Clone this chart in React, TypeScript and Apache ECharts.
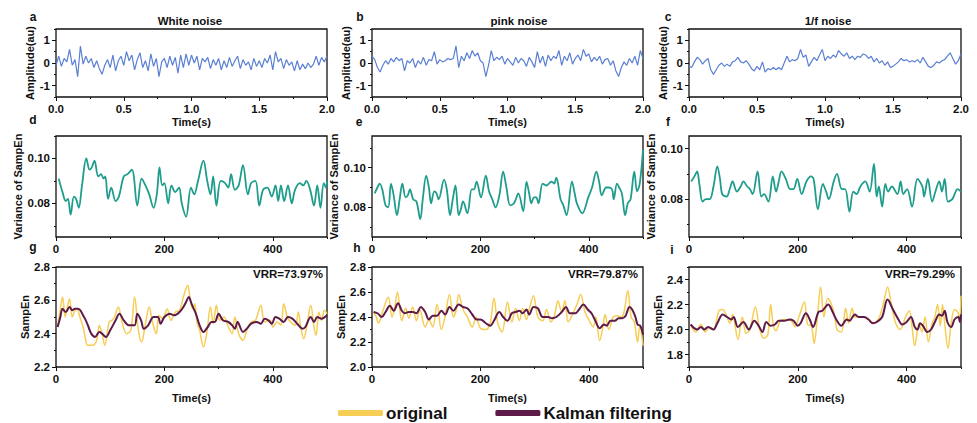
import { useEffect, useRef } from "react";
import * as echarts from "echarts";

// ---- Row 1: raw noise traces (sampled every NOISE_STEP seconds from 0 to 2 s)
const NOISE_STEP = 0.02;
const whiteNoise = [
  -0.1, 0.3, -0.15, 0.2, 0.05, 0.6, -0.1, 0.15, -0.6, 0.75, -0.05, 0.3, 0.0, 0.2, -0.2, 0.1, -0.25, -0.5, -0.1, 0.15,
  -0.2, 0.35, -0.35, 0.1, 0.3, -0.1, 0.5, 0.1, 0.35, -0.3, 0.15, 0.45, -0.2, 0.1, -0.35, 0.4, -0.15, 0.2, -0.6, 0.05,
  0.2, -0.2, 0.3, -0.1, 0.25, -0.45, 0.35, -0.2, 0.4, -0.1, 0.35, 0.0, 0.3, -0.3, 0.2, 0.05, 0.25, -0.25, 0.15, -0.1,
  0.2, -0.3, 0.1, -0.2, 0.25, -0.15, 0.1, 0.3, -0.25, 0.15, -0.1, 0.05, -0.3, 0.2, -0.15, 0.1, -0.2, 0.2, 0.0, 0.35,
  -0.3, 0.5, 0.05, 0.2, -0.25, 0.15, -0.1, 0.05, -0.35, 0.1, -0.3, -0.05, -0.25, 0.0, -0.2, -0.05, 0.3, -0.1, 0.25, 0.05,
  0.3,
];
const pinkNoise = [
  0.3, 0.15, -0.2, -0.4, -0.1, 0.1, -0.05, 0.2, 0.05, 0.25, 0.1, 0.2, -0.35, 0.1, 0.0, 0.2, -0.2, 0.1, -0.05, 0.25,
  -0.1, 0.15, 0.1, 0.5, -0.05, 0.15, 0.05, 0.1, 0.2, 0.15, 0.2, 0.75, -0.2, 0.3, 0.1, 0.45, 0.2, 0.55, 0.3, 0.45,
  0.1, 0.0, -0.6, -0.1, 0.55, 0.1, 0.25, 0.15, 0.3, -0.05, 0.2, 0.05, -0.1, 0.25, 0.0, 0.2, 0.1, -0.15, 0.25, 0.05,
  -0.2, 0.5, 0.0, 0.3, -0.15, 0.35, 0.1, 0.3, 0.2, 0.55, -0.1, 0.3, 0.1, 0.45, -0.05, 0.2, 0.35, 0.1, 0.6, 0.3,
  0.4, 0.05, 0.25, 0.1, 0.3, -0.05, 0.15, 0.2, -0.1, 0.1, -0.35, -0.6, -0.2, 0.05, -0.1, 0.2, 0.0, 0.3, -0.1, 0.55,
  0.2,
];
const oneOverFNoise = [
  -0.15, -0.2, 0.05, 0.25, 0.15, -0.05, 0.1, 0.2, -0.3, -0.5, -0.3, -0.1, 0.0, -0.15, -0.05, -0.15, 0.05, 0.1, 0.25, 0.05,
  0.0, 0.1, -0.05, -0.25, -0.35, -0.15, -0.3, 0.05, -0.4, -0.25, -0.3, -0.2, -0.3, -0.2, -0.3, 0.0, 0.3, 0.05, 0.15, 0.1,
  0.2, 0.6, 0.25, 0.35, -0.15, 0.05, 0.25, 0.1, 0.35, 0.6, 0.1, 0.3, 0.2, 0.35, 0.25, 0.55, 0.4, 0.3, 0.45, 0.2,
  0.3, 0.15, 0.3, 0.25, 0.4, 0.35, 0.2, 0.3, 0.05, 0.2, 0.0, 0.1, -0.1, 0.05, -0.2, -0.15, -0.05, 0.05, 0.2, 0.1,
  0.15, 0.05, 0.1, 0.05, 0.15, 0.0, 0.25, 0.05, -0.15, -0.2, -0.1, 0.05, 0.0, 0.1, 0.15, 0.3, 0.45, 0.2, -0.05, 0.1,
  0.4,
];

// ---- Row 2: variance of SampEn over time [t (s), variance]
const varWhite: [number, number][] = [
  [5, 0.091], [12, 0.085], [18, 0.081], [22, 0.082], [27, 0.075], [33, 0.083], [37, 0.082], [42, 0.078], [48, 0.088],
  [56, 0.1], [62, 0.095], [66, 0.096], [71, 0.099], [78, 0.092], [83, 0.093], [88, 0.091], [91, 0.092], [96, 0.082],
  [102, 0.087], [110, 0.081], [116, 0.083], [125, 0.092], [132, 0.093], [140, 0.095], [150, 0.079], [158, 0.091],
  [165, 0.088], [172, 0.084], [180, 0.078], [186, 0.084], [191, 0.096], [196, 0.088], [200, 0.089], [207, 0.08],
  [213, 0.088], [220, 0.085], [227, 0.087], [232, 0.08], [240, 0.074], [249, 0.087], [255, 0.084], [262, 0.09],
  [272, 0.099], [279, 0.09], [285, 0.084], [290, 0.092], [296, 0.079], [304, 0.09], [312, 0.089], [318, 0.087],
  [323, 0.093], [330, 0.086], [337, 0.088], [345, 0.097], [354, 0.084], [360, 0.089], [368, 0.09], [375, 0.079],
  [382, 0.086], [390, 0.087], [398, 0.083], [405, 0.088], [410, 0.081], [415, 0.088], [421, 0.081], [428, 0.088],
  [435, 0.08], [441, 0.086], [450, 0.089], [456, 0.088], [462, 0.09], [469, 0.086], [476, 0.079], [482, 0.088],
  [488, 0.078], [494, 0.089], [498, 0.087], [500, 0.09],
];
const varPink: [number, number][] = [
  [5, 0.087], [10, 0.09], [14, 0.092], [19, 0.089], [25, 0.081], [30, 0.08], [35, 0.092], [40, 0.086], [46, 0.076],
  [51, 0.084], [56, 0.092], [62, 0.085], [66, 0.086], [70, 0.089], [76, 0.084], [82, 0.083], [89, 0.074], [94, 0.085],
  [100, 0.096], [105, 0.09], [109, 0.082], [115, 0.088], [119, 0.087], [123, 0.084], [133, 0.094], [138, 0.089],
  [144, 0.076], [149, 0.084], [154, 0.091], [160, 0.076], [164, 0.079], [168, 0.083], [176, 0.077], [184, 0.089],
  [188, 0.089], [193, 0.093], [201, 0.085], [210, 0.096], [216, 0.088], [222, 0.084], [228, 0.08], [235, 0.086],
  [242, 0.098], [248, 0.09], [255, 0.081], [262, 0.082], [270, 0.087], [279, 0.078], [285, 0.093], [290, 0.087],
  [294, 0.082], [299, 0.085], [303, 0.085], [307, 0.082], [315, 0.092], [322, 0.091], [331, 0.093], [336, 0.092],
  [340, 0.095], [348, 0.084], [353, 0.081], [359, 0.076], [369, 0.093], [374, 0.087], [378, 0.082], [388, 0.077],
  [399, 0.085], [406, 0.09], [414, 0.098], [419, 0.093], [424, 0.086], [432, 0.09], [437, 0.09], [443, 0.089],
  [446, 0.084], [452, 0.092], [456, 0.09], [461, 0.087], [467, 0.076], [472, 0.082], [477, 0.084], [484, 0.098],
  [489, 0.088], [494, 0.092], [500, 0.109],
];
const var1f: [number, number][] = [
  [4, 0.087], [10, 0.089], [15, 0.091], [19, 0.086], [25, 0.079], [31, 0.08], [38, 0.08], [45, 0.085], [52, 0.093],
  [57, 0.088], [61, 0.082], [69, 0.081], [75, 0.084], [80, 0.087], [88, 0.083], [95, 0.085], [100, 0.087], [107, 0.085],
  [112, 0.084], [117, 0.082], [126, 0.091], [133, 0.081], [138, 0.082], [146, 0.079], [154, 0.089], [160, 0.083],
  [165, 0.087], [170, 0.091], [178, 0.088], [186, 0.084], [192, 0.084], [199, 0.088], [207, 0.082], [216, 0.087],
  [224, 0.089], [229, 0.088], [237, 0.076], [246, 0.086], [252, 0.083], [257, 0.08], [266, 0.087], [272, 0.09],
  [281, 0.084], [287, 0.084], [295, 0.075], [302, 0.083], [308, 0.082], [315, 0.085], [324, 0.087], [332, 0.083],
  [340, 0.094], [345, 0.081], [349, 0.085], [355, 0.077], [361, 0.086], [366, 0.083], [373, 0.085], [383, 0.082],
  [389, 0.087], [394, 0.082], [401, 0.084], [410, 0.077], [420, 0.088], [429, 0.085], [432, 0.081], [439, 0.088],
  [447, 0.079], [453, 0.083], [460, 0.087], [465, 0.083], [470, 0.088], [476, 0.079], [484, 0.08], [494, 0.084],
  [500, 0.083],
];

// ---- Row 3: SampEn, original vs Kalman-filtered [t (s), SampEn]
const origWhite: [number, number][] = [
  [3, 2.44], [8, 2.55], [12, 2.62], [17, 2.5], [21, 2.56], [25, 2.61], [30, 2.5], [34, 2.53], [38, 2.55], [45, 2.49],
  [50, 2.44], [55, 2.36], [58, 2.33], [64, 2.33], [68, 2.33], [75, 2.36], [80, 2.45], [85, 2.4], [90, 2.33], [98, 2.47],
  [103, 2.48], [108, 2.5], [115, 2.56], [122, 2.47], [130, 2.4], [138, 2.42], [145, 2.62], [152, 2.42], [158, 2.35],
  [165, 2.46], [172, 2.56], [178, 2.47], [185, 2.4], [190, 2.51], [197, 2.49], [205, 2.55], [212, 2.48], [220, 2.53],
  [228, 2.54], [235, 2.62], [243, 2.69], [247, 2.62], [252, 2.55], [256, 2.58], [260, 2.47], [265, 2.42], [272, 2.32],
  [278, 2.4], [285, 2.56], [290, 2.46], [296, 2.57], [302, 2.48], [310, 2.5], [318, 2.44], [325, 2.4], [330, 2.5],
  [337, 2.4], [345, 2.36], [352, 2.42], [360, 2.47], [368, 2.48], [378, 2.57], [385, 2.47], [395, 2.48], [400, 2.44],
  [408, 2.47], [415, 2.45], [420, 2.58], [428, 2.49], [436, 2.46], [442, 2.45], [447, 2.53], [452, 2.43], [457, 2.37],
  [463, 2.45], [470, 2.57], [476, 2.44], [480, 2.39], [485, 2.53], [490, 2.48], [495, 2.54], [500, 2.52],
];
const kalmanWhite: [number, number][] = [
  [3, 2.44], [8, 2.5], [12, 2.55], [18, 2.53], [25, 2.56], [30, 2.54], [35, 2.55], [40, 2.55], [45, 2.54], [50, 2.51],
  [55, 2.48], [60, 2.44], [65, 2.4], [72, 2.38], [80, 2.41], [85, 2.4], [92, 2.38], [100, 2.42], [110, 2.48], [117, 2.52],
  [125, 2.48], [135, 2.45], [145, 2.45], [150, 2.52], [157, 2.48], [162, 2.43], [170, 2.45], [180, 2.5], [188, 2.5],
  [193, 2.46], [200, 2.5], [210, 2.52], [218, 2.51], [228, 2.53], [235, 2.56], [240, 2.59], [245, 2.62], [250, 2.58],
  [258, 2.52], [265, 2.45], [272, 2.41], [280, 2.44], [287, 2.47], [293, 2.47], [300, 2.52], [308, 2.48], [318, 2.47],
  [325, 2.45], [330, 2.43], [335, 2.47], [345, 2.41], [352, 2.43], [360, 2.46], [370, 2.47], [378, 2.46], [385, 2.49],
  [392, 2.48], [398, 2.46], [405, 2.5], [412, 2.49], [420, 2.47], [428, 2.5], [436, 2.49], [445, 2.46], [455, 2.43],
  [460, 2.44], [470, 2.5], [476, 2.47], [482, 2.5], [490, 2.49], [500, 2.51],
];
const origPink: [number, number][] = [
  [3, 2.44], [8, 2.4], [12, 2.35], [18, 2.42], [24, 2.5], [30, 2.56], [37, 2.4], [42, 2.48], [47, 2.6], [55, 2.37],
  [62, 2.47], [68, 2.39], [75, 2.48], [82, 2.37], [88, 2.46], [98, 2.32], [105, 2.38], [112, 2.32], [120, 2.5],
  [128, 2.3], [135, 2.41], [143, 2.58], [150, 2.4], [155, 2.45], [160, 2.58], [168, 2.46], [176, 2.4], [185, 2.32],
  [192, 2.4], [200, 2.31], [210, 2.3], [218, 2.35], [225, 2.55], [232, 2.35], [240, 2.28], [250, 2.52], [258, 2.36],
  [265, 2.47], [272, 2.37], [278, 2.47], [285, 2.38], [290, 2.46], [298, 2.57], [306, 2.4], [315, 2.37], [322, 2.46],
  [330, 2.36], [337, 2.42], [343, 2.53], [350, 2.44], [356, 2.53], [362, 2.36], [370, 2.42], [378, 2.5], [385, 2.58],
  [393, 2.44], [400, 2.38], [408, 2.32], [413, 2.4], [420, 2.21], [426, 2.32], [430, 2.42], [437, 2.3], [445, 2.4],
  [452, 2.41], [460, 2.4], [465, 2.44], [472, 2.61], [478, 2.4], [484, 2.36], [490, 2.2], [494, 2.33], [500, 2.17],
];
const kalmanPink: [number, number][] = [
  [3, 2.44], [10, 2.43], [18, 2.4], [25, 2.44], [33, 2.49], [40, 2.45], [48, 2.51], [55, 2.45], [60, 2.43], [68, 2.44],
  [75, 2.44], [82, 2.43], [90, 2.48], [98, 2.44], [105, 2.38], [112, 2.41], [120, 2.41], [128, 2.45], [135, 2.42],
  [143, 2.48], [150, 2.45], [160, 2.5], [168, 2.48], [176, 2.47], [185, 2.42], [193, 2.38], [200, 2.38], [210, 2.35],
  [218, 2.33], [225, 2.37], [235, 2.44], [242, 2.4], [250, 2.37], [258, 2.43], [265, 2.44], [272, 2.45], [278, 2.43],
  [285, 2.46], [290, 2.42], [298, 2.48], [306, 2.47], [315, 2.4], [325, 2.4], [332, 2.39], [340, 2.4], [350, 2.44],
  [358, 2.48], [365, 2.43], [375, 2.43], [382, 2.46], [390, 2.5], [398, 2.46], [405, 2.43], [412, 2.37], [420, 2.31],
  [428, 2.34], [433, 2.33], [440, 2.37], [448, 2.37], [455, 2.39], [462, 2.39], [468, 2.41], [475, 2.48], [480, 2.46],
  [486, 2.4], [490, 2.34], [495, 2.33], [500, 2.26],
];
const orig1f: [number, number][] = [
  [3, 2.04], [12, 1.98], [22, 2.04], [30, 1.98], [38, 2.02], [45, 2.0], [55, 2.15], [62, 2.16], [70, 2.1], [75, 2.05],
  [80, 2.12], [90, 1.92], [98, 2.1], [105, 1.97], [112, 2.0], [122, 2.18], [130, 2.0], [138, 1.93], [145, 1.96],
  [150, 2.2], [155, 2.04], [160, 1.99], [168, 2.07], [178, 2.08], [188, 2.07], [195, 2.02], [202, 2.1], [212, 2.22],
  [218, 2.04], [225, 2.03], [230, 1.89], [236, 2.1], [242, 2.34], [248, 2.1], [255, 2.25], [262, 2.2], [268, 2.1],
  [272, 2.0], [280, 1.98], [288, 2.17], [293, 2.05], [300, 2.17], [305, 2.1], [318, 2.1], [330, 2.08], [340, 2.05],
  [350, 2.1], [358, 2.22], [365, 2.34], [372, 2.2], [380, 2.05], [388, 2.0], [398, 2.1], [405, 2.15], [410, 2.02],
  [415, 1.87], [423, 2.05], [428, 1.98], [434, 2.1], [440, 1.9], [447, 2.05], [452, 2.1], [457, 2.2], [462, 2.03],
  [466, 2.2], [470, 2.05], [476, 1.85], [482, 2.05], [488, 2.16], [494, 2.14], [497, 2.08], [500, 2.27],
];
const kalman1f: [number, number][] = [
  [3, 2.04], [15, 2.0], [22, 2.02], [28, 2.0], [35, 2.02], [45, 2.0], [52, 2.05], [62, 2.12], [70, 2.1], [78, 2.08],
  [82, 2.1], [90, 2.02], [100, 2.06], [110, 2.0], [120, 2.07], [128, 2.03], [135, 1.98], [142, 2.06], [150, 2.03],
  [158, 2.04], [165, 2.07], [175, 2.07], [185, 2.08], [192, 2.07], [200, 2.03], [205, 2.05], [215, 2.13], [222, 2.08],
  [228, 2.02], [238, 2.14], [245, 2.15], [256, 2.2], [263, 2.15], [272, 2.07], [280, 2.03], [290, 2.08], [295, 2.07],
  [305, 2.12], [312, 2.1], [322, 2.1], [330, 2.08], [338, 2.05], [345, 2.06], [355, 2.1], [365, 2.24], [375, 2.16],
  [385, 2.08], [392, 2.04], [400, 2.06], [408, 2.1], [415, 2.02], [420, 2.0], [425, 2.05], [430, 2.03], [438, 1.98],
  [445, 2.0], [452, 2.06], [460, 2.12], [465, 2.11], [470, 2.15], [475, 2.06], [482, 2.02], [488, 2.08], [495, 2.1],
  [498, 2.06], [500, 2.12],
];

// ---- Texts and ticks
const NOISE_TITLES = ["White noise", "pink noise", "1/f noise"];
const VRR_LABELS = ["VRR=73.97%", "VRR=79.87%", "VRR=79.29%"];
const PANEL_LETTERS = ["a", "b", "c", "d", "e", "f", "g", "h", "i"];
const LEGEND_NAMES = ["original", "Kalman filtering"];

const noiseTimeTicks = [0, 0.5, 1, 1.5, 2];
const noiseTimeMinor = [0.25, 0.75, 1.25, 1.75];
const timeTicks = [0, 200, 400];
const timeMinor = [100, 300, 500];

const ampTicks = [-1, 0, 1];
const ampMinor = [-1.5, -0.5, 0.5, 1.5];
const varTicks = [0.08, 0.1];
const varMinor = [0.07, 0.09, 0.11];
const sampTicksWhite = [2.2, 2.4, 2.6, 2.8];
const sampMinorWhite = [2.3, 2.5, 2.7];
const sampTicksPink = [2.0, 2.2, 2.4, 2.6, 2.8];
const sampMinorPink = [2.1, 2.3, 2.5, 2.7];
const sampTicks1f = [1.8, 2.0, 2.2, 2.4];
const sampMinor1f = [1.7, 1.9, 2.1, 2.3, 2.5];

const FONT = '"Liberation Sans", Arial, Helvetica, sans-serif';
const INK = "#111111";
const BLUE = "#5b80d2";
const TEAL = "#1e9c8c";
const YELLOW = "#f6cd55";
const PURPLE = "#5e1a48";

type Panel = {
  left: number;
  top: number;
  width: number;
  height: number;
  xMin: number;
  xMax: number;
  xTicks: number[];
  xMinor: number[];
  xFmt: (v: number) => string;
  xName: string;
  yMin: number;
  yMax: number;
  yTicks: number[];
  yMinor: number[];
  yFmt: (v: number) => string;
  yName: string;
  yNameGap: number;
};

const COL_LEFT = [56, 372, 689];
const COL_WIDTH = [271, 271, 272];

function buildOption() {
  const panels: Panel[] = [];
  const series: any[] = [];

  const noise = [whiteNoise, pinkNoise, oneOverFNoise];
  const variances = [varWhite, varPink, var1f];
  const originals = [origWhite, origPink, orig1f];
  const kalmans = [kalmanWhite, kalmanPink, kalman1f];
  const varRanges = [
    [0.065, 0.11],
    [0.065, 0.116],
    [0.065, 0.105],
  ];
  const sampRanges = [
    [2.2, 2.8],
    [2.0, 2.8],
    [1.7, 2.5],
  ];
  const sampTicks = [sampTicksWhite, sampTicksPink, sampTicks1f];
  const sampMinor = [sampMinorWhite, sampMinorPink, sampMinor1f];

  for (let c = 0; c < 3; c++) {
    panels.push({
      left: COL_LEFT[c], top: 29, width: COL_WIDTH[c], height: 68,
      xMin: 0, xMax: 2, xTicks: noiseTimeTicks, xMinor: noiseTimeMinor,
      xFmt: (v) => v.toFixed(1), xName: "Time(s)",
      yMin: -1.5, yMax: 1.5, yTicks: ampTicks, yMinor: ampMinor,
      yFmt: (v) => String(Math.round(v)), yName: "Amplitude(au)", yNameGap: 17,
    });
  }
  for (let c = 0; c < 3; c++) {
    panels.push({
      left: COL_LEFT[c], top: 136, width: COL_WIDTH[c], height: 101,
      xMin: 0, xMax: 500, xTicks: timeTicks, xMinor: timeMinor,
      xFmt: (v) => String(Math.round(v)), xName: "",
      yMin: varRanges[c][0], yMax: varRanges[c][1], yTicks: varTicks,
      yMinor: varMinor.filter((m) => m <= varRanges[c][1]),
      yFmt: (v) => v.toFixed(2), yName: "Variance of SampEn", yNameGap: 31,
    });
  }
  for (let c = 0; c < 3; c++) {
    panels.push({
      left: COL_LEFT[c], top: 267, width: COL_WIDTH[c], height: 100,
      xMin: 0, xMax: 500, xTicks: timeTicks, xMinor: timeMinor,
      xFmt: (v) => String(Math.round(v)), xName: "Time(s)",
      yMin: sampRanges[c][0], yMax: sampRanges[c][1], yTicks: sampTicks[c], yMinor: sampMinor[c],
      yFmt: (v) => v.toFixed(1), yName: "SampEn", yNameGap: 25,
    });
  }

  const labelStyle = { color: INK, fontFamily: FONT, fontWeight: "bold" as const, fontSize: 11.5 };
  const nameStyle = { color: INK, fontFamily: FONT, fontWeight: "bold" as const, fontSize: 11 };

  const grid: any[] = [];
  const xAxis: any[] = [];
  const yAxis: any[] = [];

  panels.forEach((p, k) => {
    grid.push({
      left: p.left, top: p.top, width: p.width, height: p.height,
      show: true, borderColor: INK, borderWidth: 1.3, backgroundColor: "transparent",
    });
    // main x axis: labels + major ticks
    xAxis.push({
      type: "value", gridIndex: k, min: p.xMin, max: p.xMax, position: "bottom",
      axisLine: { show: false, onZero: false },
      splitLine: { show: false },
      axisTick: { show: true, length: 4, lineStyle: { color: INK, width: 1 }, customValues: p.xTicks },
      axisLabel: { ...labelStyle, margin: 6, customValues: p.xTicks, formatter: (v: number) => p.xFmt(v) },
      name: p.xName, nameLocation: "middle", nameGap: k < 3 ? 19 : 25, nameTextStyle: nameStyle,
    });
    // minor x ticks
    xAxis.push({
      type: "value", gridIndex: k, min: p.xMin, max: p.xMax, position: "bottom",
      axisLine: { show: false, onZero: false }, splitLine: { show: false }, axisLabel: { show: false },
      axisTick: { show: true, length: 2, lineStyle: { color: INK, width: 1 }, customValues: p.xMinor },
    });
    yAxis.push({
      type: "value", gridIndex: k, min: p.yMin, max: p.yMax, position: "left",
      axisLine: { show: false, onZero: false },
      splitLine: { show: false },
      axisTick: { show: true, length: 4, lineStyle: { color: INK, width: 1 }, customValues: p.yTicks },
      axisLabel: { ...labelStyle, margin: 6, customValues: p.yTicks, formatter: (v: number) => p.yFmt(v) },
      name: p.yName, nameLocation: "middle", nameGap: p.yNameGap, nameRotate: 90, nameTextStyle: nameStyle,
    });
    yAxis.push({
      type: "value", gridIndex: k, min: p.yMin, max: p.yMax, position: "left",
      axisLine: { show: false, onZero: false }, splitLine: { show: false }, axisLabel: { show: false },
      axisTick: { show: true, length: 2, lineStyle: { color: INK, width: 1 }, customValues: p.yMinor },
    });
  });

  // Row 1 noise
  noise.forEach((vals, c) => {
    series.push({
      type: "line", xAxisIndex: c * 2, yAxisIndex: c * 2, symbol: "none", silent: true,
      lineStyle: { color: BLUE, width: 1.2 },
      data: vals.map((v, i) => [i * NOISE_STEP, v]),
    });
  });
  // Row 2 variance
  variances.forEach((vals, c) => {
    const k = 3 + c;
    series.push({
      type: "line", xAxisIndex: k * 2, yAxisIndex: k * 2, symbol: "none", silent: true, smooth: 0.35,
      lineStyle: { color: TEAL, width: 1.8 },
      data: vals,
    });
  });
  // Row 3 SampEn
  for (let c = 0; c < 3; c++) {
    const k = 6 + c;
    series.push({
      name: LEGEND_NAMES[0], type: "line", xAxisIndex: k * 2, yAxisIndex: k * 2, symbol: "none", silent: true,
      smooth: 0.35, color: YELLOW, lineStyle: { color: YELLOW, width: 1.5 },
      data: originals[c],
    });
    series.push({
      name: LEGEND_NAMES[1], type: "line", xAxisIndex: k * 2, yAxisIndex: k * 2, symbol: "none", silent: true,
      smooth: 0.35, color: PURPLE, lineStyle: { color: PURPLE, width: 2 },
      data: kalmans[c],
    });
  }

  const letterPos = [
    [33, 17], [360, 17], [668, 17],
    [33, 120], [359, 122], [668, 122],
    [33, 247], [357, 248], [672, 250],
  ];
  const titleX = [190, 519, 828];
  const vrrRight = [323, 638, 955];

  const graphic: any[] = [];
  PANEL_LETTERS.forEach((l, i) => {
    graphic.push({
      type: "text", x: letterPos[i][0], y: letterPos[i][1], silent: true,
      style: { text: l, fill: INK, font: `bold 12px ${FONT}`, textAlign: "center", textVerticalAlign: "middle" },
    });
  });
  NOISE_TITLES.forEach((t, i) => {
    graphic.push({
      type: "text", x: titleX[i], y: 21, silent: true,
      style: { text: t, fill: INK, font: `bold 11.5px ${FONT}`, textAlign: "center", textVerticalAlign: "middle" },
    });
  });
  VRR_LABELS.forEach((t, i) => {
    graphic.push({
      type: "text", x: vrrRight[i], y: 274, silent: true,
      style: { text: t, fill: INK, font: `bold 11.5px ${FONT}`, textAlign: "right", textVerticalAlign: "middle" },
    });
  });

  return {
    animation: false,
    backgroundColor: "#ffffff",
    textStyle: { fontFamily: FONT },
    grid,
    xAxis,
    yAxis,
    series,
    graphic,
    legend: {
      data: LEGEND_NAMES,
      left: 338,
      top: 404,
      padding: 0,
      icon: "roundRect",
      itemWidth: 45,
      itemHeight: 6,
      itemGap: 48,
      selectedMode: false,
      textStyle: {
        color: INK, fontFamily: FONT, fontWeight: "bold", fontSize: 17, lineHeight: 18,
        padding: [0, 0, 0, -2],
      },
    },
  };
}

export default function App() {
  const ref = useRef<HTMLDivElement>(null);
  useEffect(() => {
    if (!ref.current) return;
    const chart = echarts.init(ref.current, undefined, { renderer: "svg" });
    chart.setOption(buildOption() as any);
    return () => chart.dispose();
  }, []);
  return (
    <div
      ref={ref}
      style={{ position: "absolute", left: 0, top: 0, width: 977, height: 423, background: "#fff" }}
    />
  );
}
